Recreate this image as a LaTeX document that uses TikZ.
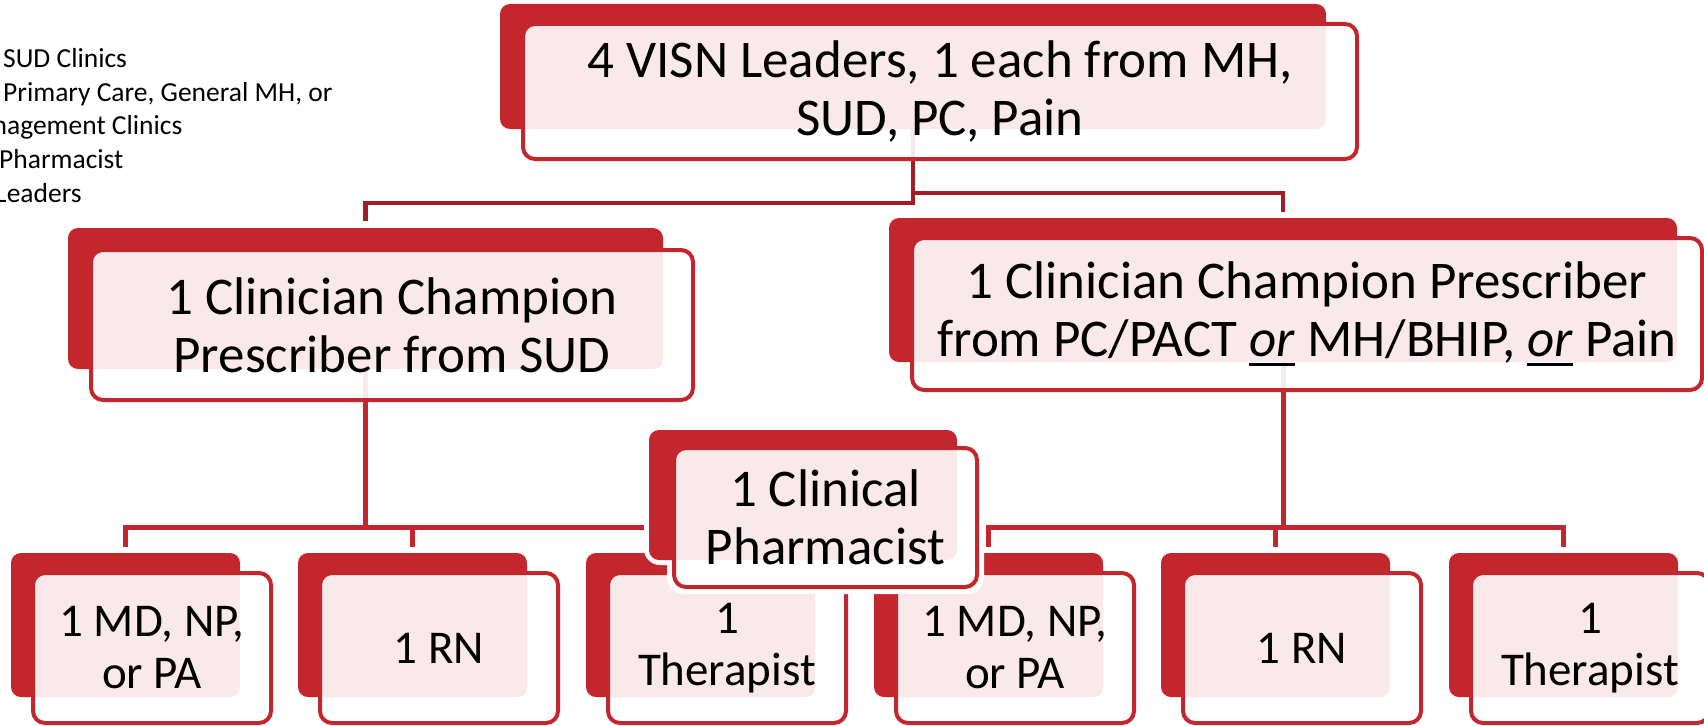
\documentclass[tikz,border=0pt]{standalone}
\usepackage{fontspec}
\setmainfont{Carlito}
\usetikzlibrary{calc}
\pgfdeclarelayer{bg}
\pgfdeclarelayer{phhalo}
\pgfdeclarelayer{ph}
\pgfsetlayers{bg,main,phhalo,ph}
\definecolor{cardred}{HTML}{C4262E}
\definecolor{lineA}{HTML}{A31D27}
\definecolor{lineB}{HTML}{C3262F}
\newcommand\myul[1]{{\setbox0=\hbox{#1}\rlap{\vrule height -6pt depth 9.5pt width \wd0}\box0}}
\begin{document}
\begin{tikzpicture}[x=1pt,y=-1pt,
  backbox/.style={fill=cardred, rounded corners=10pt, inner sep=0pt, outer sep=0pt, draw=none},
  frontbox/.style={fill=white, fill opacity=0.9, text opacity=1, draw=cardred, line width=4pt, rounded corners=12pt, inner sep=0pt, outer sep=0pt, align=center, text=black},
  bigtext/.style={font=\fontsize{53}{58}\selectfont},
  smalltext/.style={font=\fontsize{47}{52}\selectfont},
  notetext/.style={font=\fontsize{27.5}{33.5}\selectfont, anchor=base west, inner sep=0pt, text=black},
  connA/.style={draw=lineA, line width=4.5pt},
  connB/.style={draw=lineB, line width=5pt},
  halo/.style={fill=white, rounded corners=16pt}]

\useasboundingbox (0,0) rectangle (1704,725);
\clip (0,0) rectangle (1704,725);

% side notes (cut at the left edge)
\node[notetext] (n1) at (3,67) {SUD Clinics};
\node[notetext] (n2) at (3,101) {Primary Care, General MH, or};
\node[notetext] (n3) at (-7.5,134) {nagement Clinics};
\node[notetext] (n4) at (-1,168) {Pharmacist};
\node[notetext] (n5) at (-5,202) {Leaders};

% top
\node[backbox, minimum width=826pt, minimum height=125pt] (top-b) at (913,66.5) {};
\node[frontbox, bigtext, minimum width=834pt, minimum height=135pt] (top) at (940,91.5) {4 VISN Leaders, 1 each from MH,\\SUD, PC, Pain};

% champions
\node[backbox, minimum width=595pt, minimum height=141pt] (lc-b) at (365.5,298.5) {};
\node[frontbox, bigtext, minimum width=602pt, minimum height=150pt] (lc) at (392,325) {1 Clinician Champion\\Prescriber from SUD};

\node[backbox, minimum width=788pt, minimum height=144pt] (rc-b) at (1283,290) {};
\node[frontbox, bigtext, minimum width=790pt, minimum height=152pt] (rc) at (1307,314) {1 Clinician Champion Prescriber\\from PC/PACT \myul{\textit{or}} MH/BHIP, \myul{\textit{or}} Pain};

% bottom row
\foreach \i/\bx/\fx/\txt in {1/125.5/152/{1 MD, NP,\\or PA}, 2/412.5/439/{1 RN}, 3/700.5/727/{1\\Therapist}, 4/988.5/1015/{1 MD, NP,\\or PA}, 5/1275.5/1302/{1 RN}, 6/1563.5/1590/{1\\Therapist}}{
  \node[backbox, minimum width=229pt, minimum height=144pt] (b\i-b) at (\bx,625) {};
  \node[frontbox, smalltext, minimum width=238pt, minimum height=150pt] (b\i) at (\fx,648) {\txt};
}

% pharmacist overlay
\begin{pgfonlayer}{ph}
\node[backbox, minimum width=308pt, minimum height=130pt] (ph-b) at (803,495) {};
\node[frontbox, bigtext, minimum width=303pt, minimum height=139pt] (ph) at (825.5,517.5) {1 Clinical\\Pharmacist};
\end{pgfonlayer}
\begin{pgfonlayer}{phhalo}
\fill[halo] ($(ph-b.north west)+(-5,-5)$) rectangle ($(ph-b.south east)+(5,5)$);
\fill[halo] ($(ph.north west)+(-7,-7)$) rectangle ($(ph.south east)+(7,7)$);
\end{pgfonlayer}

% connectors
\begin{pgfonlayer}{bg}
\fill[white] (0,0) rectangle (1704,725);
\draw[connA] (top-b.center) -- (top-b.center |- 0,203) -| ([yshift=7pt]lc-b.north);
\draw[connA] (top-b.center |- 0,193) -| ([yshift=6pt]rc-b.north);

\draw[connB] (lc-b.center) -- (lc-b.center |- 0,527);
\draw[connB] ([yshift=6pt]b1-b.north) |- (b3-b.north |- 0,527) -- ([yshift=6pt]b3-b.north);
\draw[connB] ([yshift=6pt]b2-b.north) -- (b2-b.north |- 0,527);

\draw[connB] (rc-b.center) -- (rc-b.center |- 0,527);
\draw[connB] ([yshift=6pt]b4-b.north) |- (b6-b.north |- 0,527) -- ([yshift=6pt]b6-b.north);
\draw[connB] ([yshift=6pt]b5-b.north) -- (b5-b.north |- 0,527);
\end{pgfonlayer}
\end{tikzpicture}
\end{document}
